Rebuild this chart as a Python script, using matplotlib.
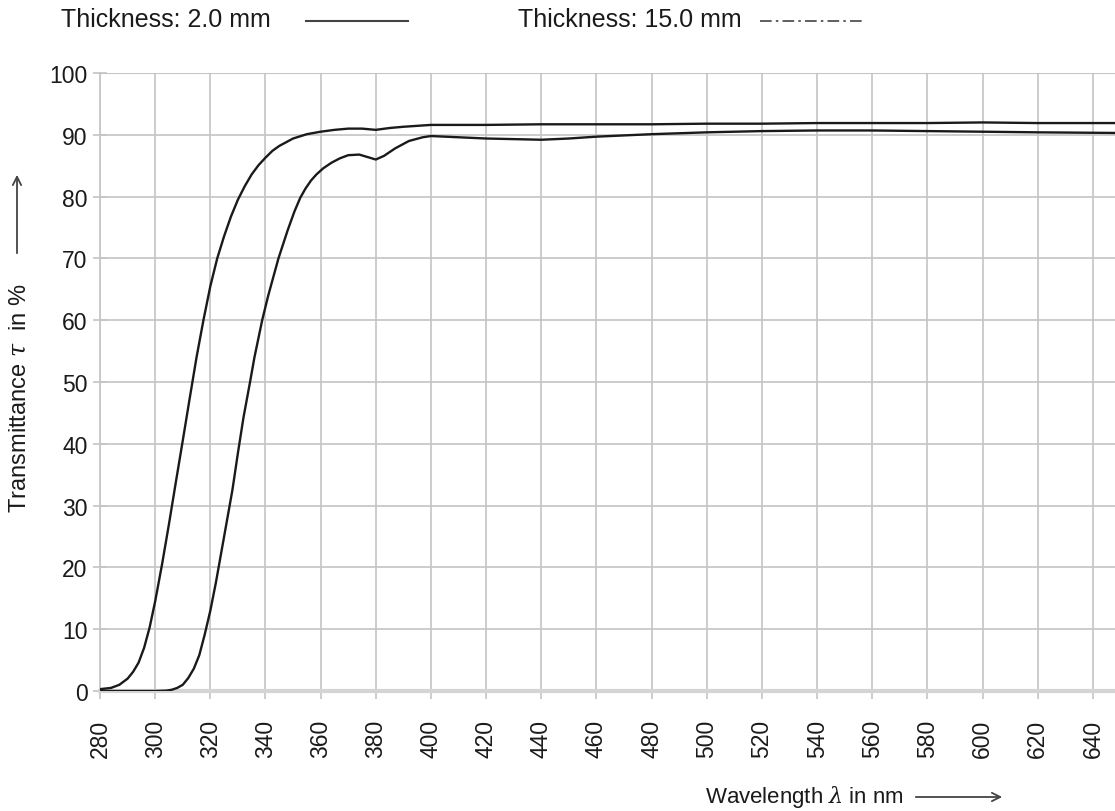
import matplotlib
matplotlib.use("Agg")
import matplotlib.pyplot as plt
from matplotlib.lines import Line2D
from matplotlib.patches import FancyArrowPatch

plt.rcParams["font.family"] = ["Liberation Sans", "DejaVu Sans"]
plt.rcParams["mathtext.fontset"] = "dejavuserif"

# ---------------------------------------------------------
# Data
# ---------------------------------------------------------
wl_thin = [280, 284, 287, 290, 292, 294, 296, 298, 300, 302.5, 305, 307.5, 310,
           312.5, 315, 317.5, 320, 322.5, 325, 327.5, 330, 332.5, 335, 337.5,
           340, 342.5, 345, 350, 355, 360, 365, 370, 375, 380, 385,
           390, 400, 420, 440, 460, 480, 500, 520, 540, 560, 580, 600, 620, 648]
tau_thin = [0.3, 0.5, 1.0, 2.0, 3.1, 4.6, 7.0, 10.3, 14.5, 20.5, 27.0, 33.8, 40.5,
            47.3, 54.0, 60.0, 65.5, 70.0, 73.6, 76.8, 79.5, 81.7, 83.6, 85.1,
            86.3, 87.4, 88.2, 89.4, 90.1, 90.5, 90.8, 91.0, 91.0, 90.8, 91.1,
            91.3, 91.6, 91.6, 91.7, 91.7, 91.7, 91.8, 91.8, 91.9, 91.9, 91.9, 92.0, 91.9, 91.9]

wl_thick = [280, 300, 304, 306, 308, 310, 312, 314, 316, 318, 320, 322, 325, 328, 330,
            332, 334.4, 336, 338.8, 341, 344.7, 348, 350.5, 352.6, 354.5, 356.5, 358.5,
            361, 364, 367, 370, 374, 377, 380, 383, 387, 392, 397, 400, 410, 420, 430,
            440, 450, 460, 480, 500, 520, 540, 560, 580, 600, 620, 648]
tau_thick = [0.0, 0.0, 0.05, 0.2, 0.5, 1.0, 2.1, 3.6, 5.8, 9.2, 13.0, 17.5, 25.0, 32.5, 38.5,
             44.2, 50.0, 54.0, 60.0, 64.0, 70.0, 74.5, 77.6, 79.8, 81.3, 82.6, 83.6,
             84.6, 85.5, 86.2, 86.7, 86.8, 86.4, 86.0, 86.6, 87.8, 89.0, 89.6, 89.8,
             89.6, 89.4, 89.3, 89.2, 89.4, 89.7, 90.1, 90.4, 90.6, 90.7, 90.7, 90.6,
             90.5, 90.4, 90.3]

x_ticks = list(range(280, 641, 20))
y_ticks = list(range(0, 101, 10))

# ---------------------------------------------------------
# Plot
# ---------------------------------------------------------
fig = plt.figure(figsize=(11.15, 8.12), dpi=100)
ax = fig.add_axes([100 / 1115, 1 - 692 / 812, 1 - 100 / 1115, (692 - 74) / 812])

grid_col = "#c4c4c4"
ax.plot(wl_thin, tau_thin, color="#1a1a1a", lw=1.7, zorder=3,
        solid_joinstyle="round")
ax.plot(wl_thick, tau_thick, color="#1a1a1a", lw=1.7, zorder=3,
        solid_joinstyle="round")

ax.set_xlim(280, 648)
ax.set_ylim(0, 100)
ax.set_xticks(x_ticks)
ax.set_yticks(y_ticks)
ax.set_xticklabels([str(v) for v in x_ticks], rotation=90, fontsize=16.5)
ax.set_yticklabels([str(v) for v in y_ticks], fontsize=16.5)

ax.grid(True, color=grid_col, lw=1.2)
for s in ["right", "top"]:
    ax.spines[s].set_visible(False)
ax.spines["left"].set_color(grid_col)
ax.spines["left"].set_linewidth(1.2)
ax.spines["bottom"].set_color("#d4d4d4")
ax.spines["bottom"].set_linewidth(3)
ax.axhline(100, color=grid_col, lw=1.5)

ax.tick_params(axis="y", direction="inout", length=10, width=1.2,
               color=grid_col, pad=4, labelcolor="#1a1a1a")
ax.tick_params(axis="x", direction="out", length=6, width=1.2,
               color=grid_col, pad=14, labelcolor="#1a1a1a")

# axis labels with arrows
fig.text(20 / 1115, 1 - 398 / 812, "Transmittance $\\tau$  in %", rotation=90,
         ha="center", va="center", fontsize=17, color="#1a1a1a")
fig.add_artist(FancyArrowPatch(
    (17 / 1115, 1 - 257 / 812), (17 / 1115, 1 - 173 / 812),
    transform=fig.transFigure, arrowstyle="->,head_length=6,head_width=3",
    color="#444444", lw=1.3))

fig.text(705 / 1115, 1 - 797 / 812, "Wavelength $\\lambda$ in nm",
         ha="left", va="center", fontsize=16, color="#1a1a1a")
fig.add_artist(FancyArrowPatch(
    (913 / 1115, 1 - 798 / 812), (1005 / 1115, 1 - 798 / 812),
    transform=fig.transFigure, arrowstyle="->,head_length=6,head_width=3",
    color="#444444", lw=1.3))

# legend at the top
fig.text(61 / 1115, 1 - 20 / 812, "Thickness: 2.0 mm", ha="left", va="center",
         fontsize=18, color="#1a1a1a")
fig.add_artist(Line2D([306 / 1115, 408 / 1115], [1 - 22 / 812, 1 - 22 / 812],
                      transform=fig.transFigure, color="#444444", lw=1.5))
fig.text(518 / 1115, 1 - 20 / 812, "Thickness: 15.0 mm", ha="left", va="center",
         fontsize=18, color="#1a1a1a")
fig.add_artist(Line2D([760 / 1115, 862 / 1115], [1 - 22 / 812, 1 - 22 / 812],
                      transform=fig.transFigure, color="#444444", lw=1.2,
                      dashes=(7, 2.5, 1.5, 2.5)))

fig.savefig("out.png", dpi=100)
